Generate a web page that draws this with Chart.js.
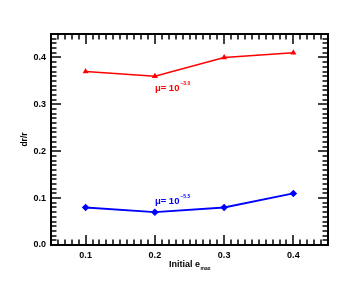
<!DOCTYPE html>
<html>
<head>
<meta charset="utf-8">
<script src="https://cdn.jsdelivr.net/npm/chart.js@4"></script>
<style>
    html, body { margin: 0; padding: 0; background: #fff; }
    #wrap { width: 356px; height: 285px; position: relative; }
</style>
</head>
<body>
<div id="wrap"><canvas id="chart" width="356" height="285"></canvas></div>
<script>
// data
const emax = [0.1, 0.2, 0.3, 0.4];
const drHighMu = [0.37, 0.36, 0.40, 0.41];   // mu = 10^-3.0
const drLowMu = [0.08, 0.07, 0.08, 0.11];    // mu = 10^-5.5
const xTicks = [0.1, 0.2, 0.3, 0.4];
const yTicks = [0.0, 0.1, 0.2, 0.3, 0.4];

const FONT = '"Liberation Sans", Arial, sans-serif';

// IDL style frame: box with inward ticks on all four sides + labels
const framePlugin = {
    id: 'frame',
    afterDraw(chart) {
        const ctx = chart.ctx;
        const a = chart.chartArea;
        const xs = chart.scales.x, ys = chart.scales.y;
        ctx.save();
        ctx.strokeStyle = '#000000';
        ctx.lineWidth = 1.5;
        // minor every 0.01, major every 0.1
        ctx.beginPath();
        for (let i = 5; i <= 45; i++) {
            const px = Math.round(xs.getPixelForValue(i / 100));
            const len = i % 10 === 0 ? 10 : 5.5;
            ctx.moveTo(px, a.bottom); ctx.lineTo(px, a.bottom - len);
            ctx.moveTo(px, a.top); ctx.lineTo(px, a.top + len);
        }
        for (let i = 0; i <= 45; i++) {
            const py = Math.round(ys.getPixelForValue(i / 100));
            const len = i % 10 === 0 ? 10 : 5.5;
            ctx.moveTo(a.left, py); ctx.lineTo(a.left + len, py);
            ctx.moveTo(a.right, py); ctx.lineTo(a.right - len, py);
        }
        ctx.stroke();
        ctx.lineWidth = 2;
        ctx.strokeRect(a.left, a.top, a.right - a.left, a.bottom - a.top);

        // axis titles
        ctx.fillStyle = '#000';
        ctx.textBaseline = 'alphabetic';
        ctx.textAlign = 'left';
        ctx.font = 'bold 9px ' + FONT;
        const t1 = 'Initial e';
        const w1 = ctx.measureText(t1).width;
        ctx.font = 'bold 5px ' + FONT;
        const w2 = ctx.measureText('max').width;
        const x0 = (a.left + a.right) / 2 - (w1 + w2) / 2;
        ctx.font = 'bold 9px ' + FONT;
        ctx.fillText(t1, x0, 267);
        ctx.font = 'bold 5px ' + FONT;
        ctx.fillText('max', x0 + w1 + 0.5, 269.5);

        ctx.save();
        ctx.translate(27, (a.top + a.bottom) / 2);
        ctx.rotate(-Math.PI / 2);
        ctx.textAlign = 'center';
        ctx.font = 'bold 8.5px ' + FONT;
        ctx.fillText('dr/r', 0, 0);
        ctx.restore();

        // curve labels
        const label = (color, exp, xv, yv) => {
            const px = xs.getPixelForValue(xv), py = ys.getPixelForValue(yv);
            ctx.fillStyle = color;
            ctx.textAlign = 'left';
            ctx.font = 'bold 9.5px ' + FONT;
            const base = '\u03bc= 10';
            ctx.fillText(base, px, py);
            const bw = ctx.measureText(base).width;
            ctx.font = 'bold 5px ' + FONT;
            ctx.fillText(exp, px + bw + 1, py - 6);
        };
        label('#ff0000', '\u22123.0', 0.2, 0.329);
        label('#0000ff', '\u22125.5', 0.2, 0.088);
        ctx.restore();
    }
};

new Chart(document.getElementById('chart'), {
    type: 'line',
    data: {
        datasets: [
            {
                label: 'mu 1e-3.0',
                data: emax.map((x, i) => ({ x: x, y: drHighMu[i] })),
                borderColor: '#ff0000',
                backgroundColor: '#ff0000',
                borderWidth: 1.5,
                pointStyle: 'triangle',
                pointRadius: 2,
                tension: 0
            },
            {
                label: 'mu 1e-5.5',
                data: emax.map((x, i) => ({ x: x, y: drLowMu[i] })),
                borderColor: '#0000ff',
                backgroundColor: '#0000ff',
                borderWidth: 1.8,
                pointStyle: 'rectRot',
                pointRadius: 2.5,
                tension: 0
            }
        ]
    },
    options: {
        responsive: false,
        animation: false,
        layout: { padding: { top: 34, right: 28, left: 0, bottom: 0 } },
        plugins: { legend: { display: false }, tooltip: { enabled: false } },
        scales: {
            x: {
                type: 'linear',
                min: 0.05,
                max: 0.45,
                grid: { display: false, drawTicks: false },
                border: { display: false },
                afterBuildTicks: (s) => { s.ticks = xTicks.map(v => ({ value: v })); },
                afterFit: (s) => { s.height = 40; },
                ticks: {
                    color: '#000',
                    padding: 5,
                    maxRotation: 0,
                    font: { family: FONT, size: 9, weight: 'bold' },
                    callback: (v) => v.toFixed(1)
                }
            },
            y: {
                type: 'linear',
                min: 0,
                max: 0.45,
                grid: { display: false, drawTicks: false },
                border: { display: false },
                afterBuildTicks: (s) => { s.ticks = yTicks.map(v => ({ value: v })); },
                afterFit: (s) => { s.width = 51; },
                ticks: {
                    color: '#000',
                    padding: 5,
                    font: { family: FONT, size: 9, weight: 'bold' },
                    callback: (v) => v.toFixed(1)
                }
            }
        }
    },
    plugins: [framePlugin]
});
</script>
</body>
</html>
